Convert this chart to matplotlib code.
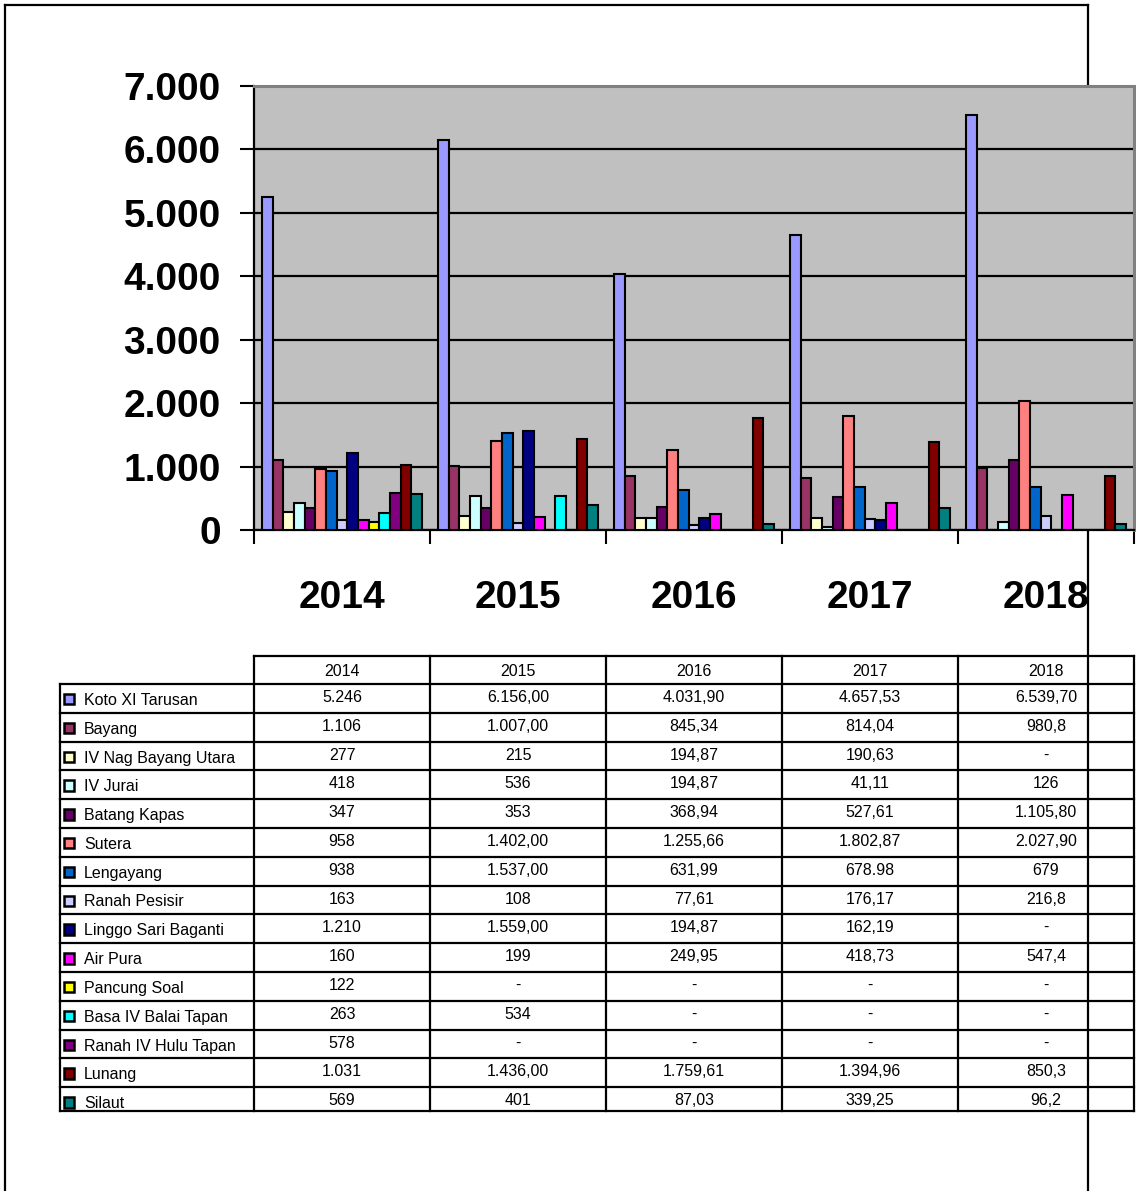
import numpy as np
import matplotlib
matplotlib.use("Agg")
import matplotlib.pyplot as plt
from matplotlib.patches import Rectangle

plt.rcParams["font.family"] = ["Liberation Sans", "DejaVu Sans"]

W, H = 1136, 1191

years = ["2014", "2015", "2016", "2017", "2018"]
districts = ["Koto XI Tarusan", "Bayang", "IV Nag Bayang Utara", "IV Jurai",
             "Batang Kapas", "Sutera", "Lengayang", "Ranah Pesisir",
             "Linggo Sari Baganti", "Air Pura", "Pancung Soal",
             "Basa IV Balai Tapan", "Ranah IV Hulu Tapan", "Lunang", "Silaut"]
colors = ["#9999FF", "#993366", "#FFFFCC", "#CCFFFF", "#660066", "#FF8080",
          "#0066CC", "#CCCCFF", "#000080", "#FF00FF", "#FFFF00", "#00FFFF",
          "#800080", "#800000", "#008080"]

# numeric values per year (NaN = "-")
nan = np.nan
vals_2014 = [5246, 1106, 277, 418, 347, 958, 938, 163, 1210, 160, 122, 263, 578, 1031, 569]
vals_2015 = [6156, 1007, 215, 536, 353, 1402, 1537, 108, 1559, 199, nan, 534, nan, 1436, 401]
vals_2016 = [4031.90, 845.34, 194.87, 194.87, 368.94, 1255.66, 631.99, 77.61, 194.87, 249.95,
             nan, nan, nan, 1759.61, 87.03]
vals_2017 = [4657.53, 814.04, 190.63, 41.11, 527.61, 1802.87, 678.98, 176.17, 162.19, 418.73,
             nan, nan, nan, 1394.96, 339.25]
vals_2018 = [6539.70, 980.8, nan, 126, 1105.80, 2027.90, 679, 216.8, nan, 547.4,
             nan, nan, nan, 850.3, 96.2]

# table cell text as printed
txt_2014 = ["5.246", "1.106", "277", "418", "347", "958", "938", "163", "1.210", "160",
            "122", "263", "578", "1.031", "569"]
txt_2015 = ["6.156,00", "1.007,00", "215", "536", "353", "1.402,00", "1.537,00", "108",
            "1.559,00", "199", "-", "534", "-", "1.436,00", "401"]
txt_2016 = ["4.031,90", "845,34", "194,87", "194,87", "368,94", "1.255,66", "631,99", "77,61",
            "194,87", "249,95", "-", "-", "-", "1.759,61", "87,03"]
txt_2017 = ["4.657,53", "814,04", "190,63", "41,11", "527,61", "1.802,87", "678.98", "176,17",
            "162,19", "418,73", "-", "-", "-", "1.394,96", "339,25"]
txt_2018 = ["6.539,70", "980,8", "-", "126", "1.105,80", "2.027,90", "679", "216,8",
            "-", "547,4", "-", "-", "-", "850,3", "96,2"]

yticks = [0, 1000, 2000, 3000, 4000, 5000, 6000, 7000]
ytick_labels = ["0", "1.000", "2.000", "3.000", "4.000", "5.000", "6.000", "7.000"]

all_vals = np.array([vals_2014, vals_2015, vals_2016, vals_2017, vals_2018])
all_txt = [txt_2014, txt_2015, txt_2016, txt_2017, txt_2018]

fig = plt.figure(figsize=(W / 100, H / 100), dpi=100)

# overlay in pixel coordinates for frame and table
ov = fig.add_axes([0, 0, 1, 1], zorder=0)
ov.set_xlim(0, W)
ov.set_ylim(H, 0)
ov.axis("off")

# outer frame
ov.plot([5, 5], [5, H + 5], color="black", lw=1.6)
ov.plot([5, 1088], [5, 5], color="black", lw=1.6)
ov.plot([1088, 1088], [5, H + 5], color="black", lw=1.6, zorder=5)

# chart area
left, right, top, bottom = 254, 1134, 86, 530
ax = fig.add_axes([left / W, 1 - bottom / H, (right - left) / W, (bottom - top) / H], zorder=1)
ax.set_facecolor("#C0C0C0")

n = len(districts)
bw = 1 / (n + 1.5)
for i in range(n):
    xs = np.arange(len(years)) + 0.75 * bw + i * bw
    ax.bar(xs, all_vals[:, i], width=bw, align="edge", color=colors[i],
           edgecolor="black", linewidth=1.5, zorder=3)

ax.set_xlim(0, len(years))
ax.set_ylim(0, 7000)
ax.set_yticks(yticks)
ax.set_yticklabels(ytick_labels, fontsize=28, fontweight="bold")
ax.tick_params(axis="y", length=10, width=1.5, pad=14, direction="out")
ax.set_xticks(np.arange(len(years) + 1))
ax.set_xticklabels([])
ax.tick_params(axis="x", which="major", length=10, width=1.5, direction="out")
ax.set_xticks(np.arange(len(years)) + 0.5, minor=True)
ax.set_xticklabels(years, minor=True, fontsize=28, fontweight="bold")
ax.tick_params(axis="x", which="minor", length=0, pad=36)
ax.yaxis.grid(True, color="black", lw=1.6, zorder=1)
ax.set_axisbelow(True)
for s in ["left", "bottom"]:
    ax.spines[s].set_color("black")
    ax.spines[s].set_linewidth(1.6)
for s in ["top", "right"]:
    ax.spines[s].set_color("#808080")
    ax.spines[s].set_linewidth(2.2)

# data table
cols = [254, 430, 606, 782, 958, 1134]
head_top, head_bot = 656, 684
step = 28.8
tab_bot = 1111
leg_left = 60
lw_t = 1.6
fs_t = 11.5

# header row
ov.plot([cols[0], cols[-1]], [head_top, head_top], color="black", lw=lw_t)
for j, yr in enumerate(years):
    ov.text((cols[j] + cols[j + 1]) / 2, (head_top + head_bot) / 2 + 1, yr,
            ha="center", va="center", fontsize=fs_t)
# horizontal lines
for k in range(n):
    y = head_bot + k * step
    ov.plot([leg_left, cols[-1]], [y, y], color="black", lw=lw_t)
ov.plot([leg_left, cols[-1]], [tab_bot, tab_bot], color="black", lw=lw_t)
# vertical lines
ov.plot([leg_left, leg_left], [head_bot, tab_bot], color="black", lw=lw_t)
for c in cols:
    ov.plot([c, c], [head_top, tab_bot], color="black", lw=lw_t)

for i, name in enumerate(districts):
    yc = head_bot + i * step + step / 2
    ov.add_patch(Rectangle((63.5, yc - 4.5), 10.5, 10.5, facecolor=colors[i],
                           edgecolor="black", lw=1.8))
    ov.text(84, yc + 2, name, ha="left", va="center", fontsize=fs_t)
    for j in range(len(years)):
        ov.text((cols[j] + cols[j + 1]) / 2, yc - 1, all_txt[j][i],
                ha="center", va="center", fontsize=fs_t)

fig.savefig("out.png", dpi=100)
